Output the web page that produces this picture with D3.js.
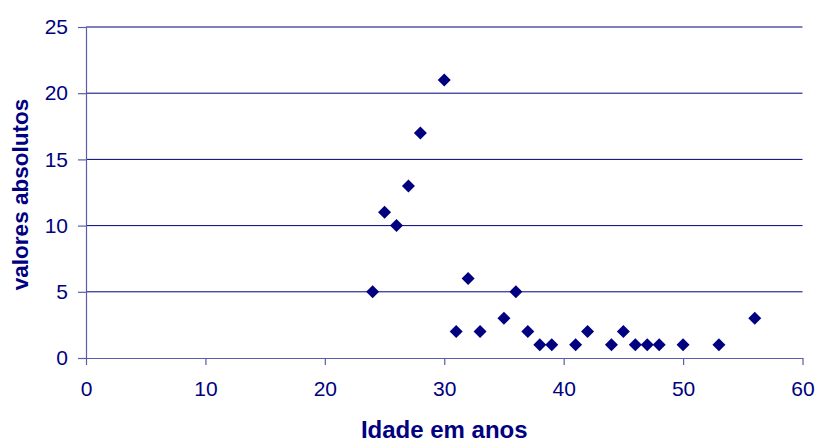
<!DOCTYPE html>
<html>
<head>
<meta charset="utf-8">
<script src="https://cdn.jsdelivr.net/npm/d3@7/dist/d3.min.js"></script>
<style>
  html, body { margin: 0; padding: 0; background: #fff; }
  svg { display: block; }
  text { font-family: "Liberation Sans", Arial, sans-serif; fill: #000080; }
</style>
</head>
<body>
<svg id="chart" width="817" height="442"></svg>
<script>
// Age (years) and absolute counts
const ages   = [24, 25, 26, 27, 28, 30, 31, 32, 33, 35, 36, 37, 38, 39, 41, 42, 44, 45, 46, 47, 48, 50, 53, 56];
const counts = [ 5, 11, 10, 13, 17, 21,  2,  6,  2,  3,  5,  2,  1,  1,  1,  2,  1,  2,  1,  1,  1,  1,  1,  3];
const xTicks = [0, 10, 20, 30, 40, 50, 60];
const yTicks = [0, 5, 10, 15, 20, 25];
const xTitle = "Idade em anos";
const yTitle = "valores absolutos";

const navy = "#000080";
const svg = d3.select("#chart");
const m = { left: 86, right: 802.5, top: 27, bottom: 358 };

const x = d3.scaleLinear().domain([0, 60]).range([m.left, m.right]);
const y = d3.scaleLinear().domain([0, 25]).range([m.bottom, m.top]);

// horizontal gridlines
svg.append("g")
  .selectAll("line")
  .data(yTicks.filter(d => d > 0))
  .join("line")
  .attr("x1", m.left).attr("x2", m.right)
  .attr("y1", d => y(d)).attr("y2", d => y(d))
  .attr("stroke", navy)
  .attr("stroke-width", 1);

// axes
const xAxis = d3.axisBottom(x).tickValues(xTicks).tickSize(7).tickPadding(16).tickSizeOuter(0);
const yAxis = d3.axisLeft(y).tickValues(yTicks).tickSize(8).tickPadding(10).tickSizeOuter(0);

const gx = svg.append("g").attr("transform", `translate(0,${m.bottom})`).call(xAxis);
const gy = svg.append("g").attr("transform", `translate(${m.left},0)`).call(yAxis);

[gx, gy].forEach(g => {
  g.select(".domain").attr("stroke", "#5c5ca8").attr("stroke-width", 1.2);
  g.selectAll(".tick line").attr("stroke", "#5c5ca8").attr("stroke-width", 1.2);
  g.selectAll(".tick text")
    .attr("fill", navy)
    .style("font-size", "21px")
    .style("font-family", "'Liberation Sans', Arial, sans-serif");
});

// markers
const diamond = "M0,-6.5L6.5,0L0,6.5L-6.5,0Z";
svg.append("g")
  .selectAll("path")
  .data(ages.map((a, i) => [a, counts[i]]))
  .join("path")
  .attr("d", diamond)
  .attr("transform", d => `translate(${x(d[0])},${y(d[1])})`)
  .attr("fill", navy);

// axis titles
svg.append("text")
  .attr("x", (m.left + m.right) / 2)
  .attr("y", 438)
  .attr("text-anchor", "middle")
  .style("font-size", "24px")
  .style("font-weight", "bold")
  .text(xTitle);

svg.append("text")
  .attr("transform", `translate(28,194.5) rotate(-90)`)
  .attr("text-anchor", "middle")
  .style("font-size", "22.5px")
  .style("font-weight", "bold")
  .text(yTitle);
</script>
</body>
</html>
